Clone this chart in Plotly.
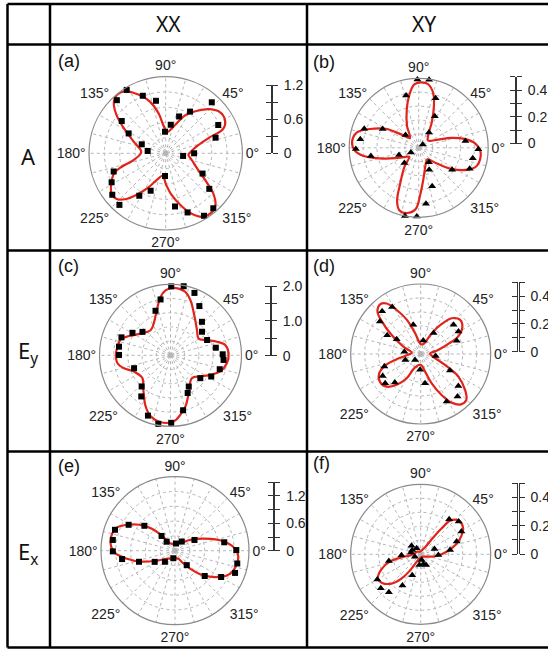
import plotly.graph_objects as go

W, H = 548, 651

# ---------------- data ----------------
col_labels = ["XX", "XY"]
row_labels = ["A", "E<sub>y</sub>", "E<sub>x</sub>"]
panel_letters = ["(a)", "(b)", "(c)", "(d)", "(e)", "(f)"]

angle_ticks = list(range(0, 360, 15))
angle_labels = [f"{a}°" if a % 45 == 0 else "" for a in angle_ticks]

# (a) A, XX
a_fit_theta = [2, 14, 20, 23, 29, 37, 45, 54, 63, 72, 86, 95, 100, 107, 115, 123, 130, 136, 142, 149, 160, 177,
               192, 197, 201, 209, 217, 223, 228.5, 235, 243, 254, 262, 271, 278, 287, 293, 300, 307, 314, 320,
               325, 333, 346, 356, 2]
a_fit_r = [0.43, 0.59, 0.83, 1.10, 1.195, 1.20, 1.10, 0.92, 0.75, 0.52, 0.38, 0.50, 0.71, 0.95, 1.14, 1.30, 1.34,
           1.27, 1.10, 0.86, 0.60, 0.43, 0.58, 0.81, 0.97, 1.095, 1.19, 1.18, 1.08, 0.89, 0.68, 0.46, 0.40, 0.56,
           0.74, 0.98, 1.15, 1.29, 1.32, 1.26, 1.09, 0.875, 0.64, 0.47, 0.40, 0.43]
a_pts_theta = [121.6, 132.6, 111.7, 100.5, 143.7, 151.8, 159.4, 172.6, 91.8, 80.0, 70.0, 59.7, 47.9, 28.3, 17.4,
               0.0, 351.4, 199.3, 208.2, 217.8, 228.1, 238.1, 248.1, 268.3, 279.9, 290.3, 301.5, 310.9, 320.8, 331.2]
a_pts_r = [1.31, 1.27, 1.09, 0.94, 0.96, 0.74, 0.45, 0.32, 0.38, 0.51, 0.69, 0.85, 1.21, 1.05, 0.92, 0.50, 0.31,
           0.97, 1.08, 1.19, 1.22, 0.88, 0.71, 0.40, 0.95, 1.11, 1.29, 1.28, 0.99, 0.74]
a_bar_ticks = [0, 0.3, 0.6, 0.9, 1.2]
a_bar_labels = ["0", "", "0.6", "", "1.2"]

# (b) A, XY
b_fit_theta = [38, 53, 63, 70, 75, 81.5, 87.5, 94, 100, 107, 118, 132, 142, 150, 159, 166, 175, 182, 188, 195, 204,
               215, 224, 233, 243, 248, 253, 260, 267, 272, 279, 292, 306, 319, 327, 336, 343, 355, 4, 11, 17, 23, 38]
b_fit_r = [0.09, 0.12, 0.22, 0.34, 0.43, 0.49, 0.50, 0.485, 0.41, 0.31, 0.19, 0.10, 0.16, 0.29, 0.40, 0.485, 0.51,
           0.49, 0.43, 0.31, 0.195, 0.12, 0.10, 0.18, 0.315, 0.44, 0.50, 0.505, 0.47, 0.355, 0.235, 0.14, 0.11,
           0.18, 0.295, 0.41, 0.465, 0.475, 0.435, 0.355, 0.26, 0.16, 0.09]
b_pts_theta = [91.1, 81.3, 103.6, 71.2, 63.0, 56.0, 135.7, 152.4, 160.7, 171.7, 181.2, 189.7, 199.8, 211.3, 39.8,
               8.3, 358.7, 349.0, 337.7, 326.7, 305.2, 295.5, 226.9, 289.3, 277.4, 268.4, 258.6]
b_pts_r = [0.52, 0.525, 0.41, 0.40, 0.27, 0.14, 0.14, 0.31, 0.44, 0.45, 0.48, 0.37, 0.16, 0.07, 0.04, 0.36, 0.455,
           0.42, 0.42, 0.305, 0.135, 0.185, 0.16, 0.31, 0.43, 0.525, 0.53]
b_bar_ticks = [0, 0.1, 0.2, 0.3, 0.4, 0.5]
b_bar_labels = ["0", "", "0.2", "", "0.4", ""]

# (c) Ey, XX
c_fit_theta = [31, 43.5, 58, 70, 76.7, 83, 88.6, 94.4, 99.7, 108, 116, 128, 144, 155, 162, 171, 180, 188.5, 195.6,
               204, 219, 231.7, 244, 252, 261.6, 273, 279.5, 286.3, 295.8, 313, 324.6, 333.8, 342, 352, 2, 10.6,
               16.3, 22.7, 31]
c_fit_r = [0.94, 1.05, 1.305, 1.68, 1.87, 1.93, 1.935, 1.87, 1.70, 1.31, 1.07, 0.92, 1.06, 1.31, 1.50, 1.545, 1.57,
           1.54, 1.385, 1.15, 1.04, 1.26, 1.63, 1.845, 1.945, 1.90, 1.73, 1.53, 1.205, 0.90, 1.05, 1.275, 1.50,
           1.635, 1.67, 1.60, 1.39, 1.135, 0.94]
c_pts_theta = [89.4, 79.2, 69.0, 59.6, 46.8, 36.8, 22.7, 9.5, 1.1, 355.0, 344.2, 332.5, 322.5, 300.3, 294.5, 282.9,
               270.6, 259.9, 249.5, 234.6, 227.2, 199.5, 179.6, 170.5, 159.9, 149.4, 140.1, 108.6, 100.1]
c_pts_r = [1.98, 2.02, 1.92, 1.64, 1.32, 1.13, 1.14, 1.32, 1.50, 1.53, 1.47, 1.32, 1.08, 1.04, 1.19, 1.62, 1.94,
           2.00, 1.85, 1.45, 1.22, 1.11, 1.48, 1.50, 1.50, 1.27, 1.05, 1.35, 1.63]
c_bar_ticks = [0, 0.5, 1.0, 1.5, 2.0]
c_bar_labels = ["0", "", "1.0", "", "2.0"]

# (d) Ey, XY
d_fit_theta = [2, 12.8, 20, 25, 32.6, 40.8, 49, 55, 62, 75, 90, 105, 112, 118.6, 124, 129, 135.7, 140, 147, 157,
               171.6, 187, 193, 198, 205.6, 215, 224, 232, 240, 247, 270, 284, 290.6, 297, 302.5, 308.7, 314.8, 321,
               329, 335.7, 350, 2]
d_fit_r = [0.068, 0.13, 0.214, 0.30, 0.36, 0.38, 0.345, 0.267, 0.17, 0.075, 0.072, 0.156, 0.268, 0.365, 0.444,
           0.467, 0.44, 0.37, 0.25, 0.137, 0.066, 0.115, 0.19, 0.273, 0.337, 0.36, 0.343, 0.285, 0.204, 0.105,
           0.078, 0.132, 0.228, 0.335, 0.42, 0.47, 0.472, 0.416, 0.32, 0.194, 0.086, 0.068]
d_pts_theta = [132.0, 121.3, 141.5, 150.8, 148.6, 171.9, 104.2, 79.2, 58.5, 41.6, 30.7, 352.6, 330.4, 319.6, 310.9,
               298.6, 278.4, 267.6, 201.0, 199.0, 209.9, 219.4, 227.8, 226.6, 20.3]
d_pts_r = [0.42, 0.40, 0.38, 0.28, 0.205, 0.12, 0.22, 0.10, 0.18, 0.32, 0.32, 0.11, 0.245, 0.36, 0.41, 0.395, 0.215,
           0.115, 0.12, 0.28, 0.32, 0.335, 0.28, 0.06, 0.28]
d_bar_ticks = [0, 0.1, 0.2, 0.3, 0.4, 0.5]
d_bar_labels = ["0", "", "0.2", "", "0.4", ""]

# (e) Ex, XX
e_fit_theta = [90, 116, 124, 132, 140.6, 151, 159, 167.5, 176.4, 182.6, 189, 198, 208.6, 229, 246, 270, 293, 301,
               310, 319, 330, 337.6, 345, 354.5, 1.3, 8.8, 18.4, 35.4, 50, 66, 90]
e_fit_r = [0.14, 0.17, 0.20, 0.50, 0.86, 1.18, 1.39, 1.44, 1.41, 1.31, 1.09, 0.78, 0.46, 0.23, 0.19, 0.17, 0.19,
           0.29, 0.515, 0.83, 1.155, 1.32, 1.38, 1.40, 1.335, 1.16, 0.82, 0.41, 0.23, 0.18, 0.14]
e_pts_theta = [160.8, 150.8, 140.9, 132.3, 82.2, 53.5, 28.9, 9.7, 0.6, 348.4, 339.7, 330.3, 319.6, 309.1, 257.7,
               227.7, 208.8, 197.1, 189.0, 180.6, 170.2, 132.8]
e_pts_r = [1.40, 1.17, 0.87, 0.44, 0.16, 0.25, 0.49, 1.10, 1.35, 1.40, 1.41, 1.17, 0.86, 0.41, 0.17, 0.33, 0.51,
           0.83, 1.18, 1.37, 1.39, 0.27]
e_bar_ticks = [0, 0.3, 0.6, 0.9, 1.2, 1.5]
e_bar_labels = ["0", "", "0.6", "", "1.2", ""]

# (f) Ex, XY
f_fit_theta = [100, 140, 184, 189, 193.4, 201, 209.6, 216.5, 225, 231.6, 237, 243.4, 290, 331.7, 354, 6, 15, 24.4,
               33.6, 41.5, 48.7, 51, 53.3, 58, 100]
f_fit_r = [0.02, 0.03, 0.064, 0.137, 0.225, 0.298, 0.348, 0.34, 0.293, 0.219, 0.127, 0.053, 0.02, 0.035, 0.115,
           0.187, 0.254, 0.316, 0.357, 0.359, 0.317, 0.239, 0.151, 0.059, 0.02]
f_pts_theta = [51.0, 40.9, 29.3, 19.7, 8.4, 357.8, 21.3, 137.2, 152.5, 123.7, 170.2, 280.0, 285.4, 296.6, 262.9,
               183.0, 192.0, 210.2, 220.3, 230.0, 239.6, 248.0, 202.0]
f_pts_r = [0.32, 0.355, 0.33, 0.27, 0.21, 0.125, 0.105, 0.088, 0.067, 0.052, 0.07, 0.041, 0.072, 0.085, 0.077,
           0.136, 0.23, 0.355, 0.37, 0.35, 0.255, 0.16, 0.044]
f_bar_ticks = [0, 0.1, 0.2, 0.3, 0.4, 0.5]
f_bar_labels = ["0", "", "0.2", "", "0.4", ""]

# ---------------- layout geometry (pixels) ----------------
panels = [
    dict(fit=(a_fit_theta, a_fit_r), pts=(a_pts_theta, a_pts_r), sym="square", cx=165.7, cy=153.3, R=76.7,
         rmax=1.35, bx=271.7, by0=153.3, by1=85.0, bar=(a_bar_ticks, a_bar_labels), lx=56, ly=61),
    dict(fit=(b_fit_theta, b_fit_r), pts=(b_pts_theta, b_pts_r), sym="triangle-up", cx=418.7, cy=147.8, R=69.5,
         rmax=0.53, bx=515.7, by0=143.5, by1=76.7, bar=(b_bar_ticks, b_bar_labels), lx=311, ly=62),
    dict(fit=(c_fit_theta, c_fit_r), pts=(c_pts_theta, c_pts_r), sym="square", cx=170.5, cy=355.3, R=71.0,
         rmax=2.04, bx=270.7, by0=355.7, by1=286.0, bar=(c_bar_ticks, c_bar_labels), lx=56, ly=266),
    dict(fit=(d_fit_theta, d_fit_r), pts=(d_pts_theta, d_pts_r), sym="triangle-up", cx=420.7, cy=354.0, R=70.0,
         rmax=0.51, bx=518.3, by0=351.7, by1=282.3, bar=(d_bar_ticks, d_bar_labels), lx=311, ly=266),
    dict(fit=(e_fit_theta, e_fit_r), pts=(e_pts_theta, e_pts_r), sym="square", cx=175.0, cy=550.7, R=74.0,
         rmax=1.63, bx=274.0, by0=550.7, by1=482.3, bar=(e_bar_ticks, e_bar_labels), lx=56, ly=466),
    dict(fit=(f_fit_theta, f_fit_r), pts=(f_pts_theta, f_pts_r), sym="triangle-up", cx=420.7, cy=554.3, R=70.0,
         rmax=0.495, bx=518.3, by0=554.0, by1=483.3, bar=(f_bar_ticks, f_bar_labels), lx=311, ly=463),
]

RED = "#e2231a"
TICKFONT = dict(family="Liberation Sans, Arial, sans-serif", size=14, color="#222")

fig = go.Figure()
layout = dict(width=W, height=H, margin=dict(l=0, r=0, t=0, b=0, pad=0, autoexpand=False),
              paper_bgcolor="white", plot_bgcolor="rgba(0,0,0,0)", showlegend=False)

for i, p in enumerate(panels, start=1):
    pk = "polar" if i == 1 else f"polar{i}"
    x0, x1 = (p["cx"] - p["R"]) / W, (p["cx"] + p["R"]) / W
    y0, y1 = 1 - (p["cy"] + p["R"]) / H, 1 - (p["cy"] - p["R"]) / H
    rm = p["rmax"]
    layout[pk] = dict(
        domain=dict(x=[x0, x1], y=[y0, y1]),
        bgcolor="white",
        radialaxis=dict(range=[0, rm], tickvals=[rm * 0.025, rm * 0.05, rm * 0.2, rm * 0.4, rm * 0.6, rm * 0.8],
                        showticklabels=False, ticks="", showline=False, gridcolor="#b5b5b5",
                        griddash="dot", gridwidth=1),
        angularaxis=dict(tickvals=angle_ticks, ticktext=angle_labels, ticks="", showline=True,
                         linecolor="#8a8a8a", linewidth=1.2, gridcolor="#b5b5b5", griddash="dot",
                         gridwidth=1, tickfont=TICKFONT, rotation=0, direction="counterclockwise"),
    )
    fig.add_trace(go.Scatterpolar(theta=p["fit"][0], r=p["fit"][1], mode="lines", subplot=pk,
                                  line=dict(color=RED, width=2.2, shape="spline", smoothing=1),
                                  cliponaxis=False, hoverinfo="skip"))
    fig.add_trace(go.Scatterpolar(theta=p["pts"][0], r=p["pts"][1], mode="markers", subplot=pk,
                                  marker=dict(symbol=p["sym"], size=6 if p["sym"] == "square" else 7,
                                              color="black"),
                                  cliponaxis=False, hoverinfo="skip"))

    # scale bar: two overlaid y axes (ticks on both sides) on the radial scale
    ticks, labels = p["bar"]
    top = ticks[-1]
    xa = "xaxis" if i == 1 else f"xaxis{i}"
    ya = "yaxis" if i == 1 else f"yaxis{i}"
    ya2 = f"yaxis{i + 6}"
    xr = "x" if i == 1 else f"x{i}"
    yr = "y" if i == 1 else f"y{i}"
    dom = [1 - p["by0"] / H, 1 - p["by1"] / H]
    layout[xa] = dict(domain=[p["bx"] / W, p["bx"] / W + 0.0005], visible=False, range=[0, 1])
    common = dict(domain=dom, range=[0, top], tickvals=ticks, showline=True, linecolor="#333", linewidth=1.2,
                  ticks="outside", ticklen=5, tickwidth=1.2, tickcolor="#333", showgrid=False,
                  zeroline=False, anchor=xr, fixedrange=True, automargin=False)
    layout[ya] = dict(common, side="right", ticktext=labels, tickfont=TICKFONT, ticklabelstandoff=3)
    layout[ya2] = dict(common, side="left", overlaying=yr, showticklabels=False)
    fig.add_trace(go.Scatter(x=[0.5], y=[0], xaxis=xr, yaxis=yr, mode="markers",
                             marker=dict(opacity=0), hoverinfo="skip"))
    fig.add_trace(go.Scatter(x=[0.5], y=[0], xaxis=xr, yaxis=f"y{i + 6}", mode="markers",
                             marker=dict(opacity=0), hoverinfo="skip"))

fig.update_layout(**layout)

# table lines
def hline(y, x0=7.5, x1=548):
    fig.add_shape(type="line", xref="paper", yref="paper", x0=x0 / W, x1=x1 / W, y0=1 - y / H, y1=1 - y / H,
                  line=dict(color="black", width=2.5))

def vline(x, y0=4, y1=647.5):
    fig.add_shape(type="line", xref="paper", yref="paper", x0=x / W, x1=x / W, y0=1 - y0 / H, y1=1 - y1 / H,
                  line=dict(color="black", width=2.5))

for yy in [4, 44.5, 250.5, 451.5, 647.5]:
    hline(yy)
for xx in [7.5, 50, 307]:
    vline(xx)

HEADFONT = dict(family="Noto Sans, Open Sans, sans-serif", size=21, color="#111")
for txt, xc in zip(col_labels, [168, 424]):
    fig.add_annotation(text=txt, x=xc / W, y=1 - 24 / H, xref="paper", yref="paper", showarrow=False,
                       font=HEADFONT, xanchor="center", yanchor="middle")
for txt, yc in zip(row_labels, [156, 352, 553]):
    fig.add_annotation(text=txt, x=28 / W, y=1 - yc / H, xref="paper", yref="paper", showarrow=False,
                       font=dict(HEADFONT, size=22), xanchor="center", yanchor="middle")
for txt, p in zip(panel_letters, panels):
    fig.add_annotation(text=txt, x=p["lx"] / W, y=1 - p["ly"] / H, xref="paper", yref="paper",
                       showarrow=False, font=dict(family="Liberation Sans, Arial, sans-serif", size=18,
                                                  color="#111"), xanchor="left", yanchor="middle")

fig.write_html("out.html", config={"displayModeBar": False},
               post_script="document.body.style.margin='0';document.body.style.overflow='hidden';")
